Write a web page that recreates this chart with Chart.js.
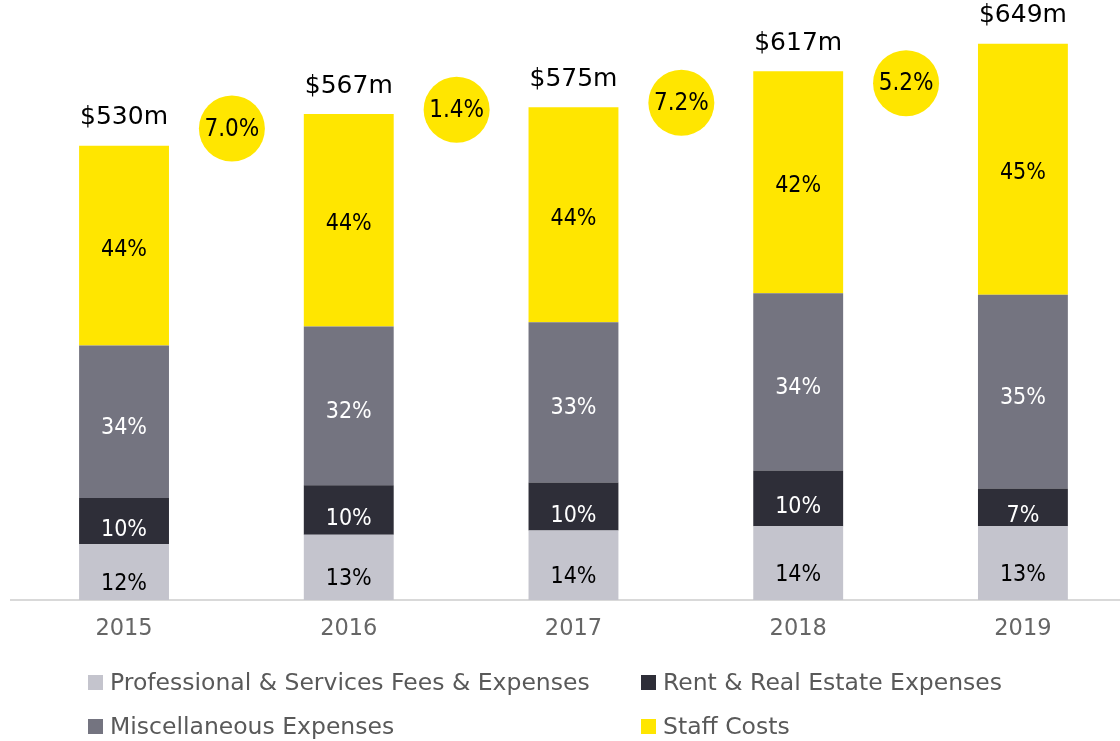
<!DOCTYPE html>
<html><head><meta charset="utf-8">
<script src="https://cdn.jsdelivr.net/npm/chart.js@4/dist/chart.umd.min.js"></script>
<style>html,body{margin:0;padding:0;background:#fff;}#wrap{width:1120px;height:741px;}</style>
</head><body><div id="wrap"><canvas id="c" width="1120" height="741"></canvas></div>
<script>
// ---- data ----
const years = [2015, 2016, 2017, 2018, 2019];
const seriesNames = ['Professional & Services Fees & Expenses', 'Rent & Real Estate Expenses', 'Miscellaneous Expenses', 'Staff Costs'];
const professional = [65, 76, 81, 86, 86];     // $m
const rent = [54, 58, 56, 65, 44];             // $m
const misc = [178, 185, 187, 207, 226];        // $m
const staff = [233, 248, 251, 259, 293];       // $m
const professionalPct = [12, 13, 14, 14, 13];
const rentPct = [10, 10, 10, 10, 7];
const miscPct = [34, 32, 33, 34, 35];
const staffPct = [44, 44, 44, 42, 45];
const totals = [530, 567, 575, 617, 649];
const growth = [7.0, 1.4, 7.2, 5.2];

// ---- layout / style ----
const growthBadgeLevel = [550, 572, 580, 603]; // vertical placement of growth badges ($m units)
const colors = ['#C4C4CD', '#2E2E38', '#747480', '#FFE600'];
const textColors = ['#000000', '#ffffff', '#ffffff', '#000000'];
const labelDy = [12, 9, 6, 4];
const pctFont = '23px "DejaVu Sans Condensed", "DejaVu Sans"';
const series = [professional, rent, misc, staff];
const pcts = [professionalPct, rentPct, miscPct, staffPct];

const labelPlugin = {
  id: 'valueLabels',
  afterDatasetsDraw(chart) {
    const ctx = chart.ctx;
    ctx.save();
    ctx.textAlign = 'center';
    ctx.textBaseline = 'middle';
    for (let d = 0; d < 4; d++) {
      const meta = chart.getDatasetMeta(d);
      meta.data.forEach((el, i) => {
        ctx.font = pctFont;
        ctx.fillStyle = textColors[d];
        ctx.fillText(pcts[d][i] + '%', el.x, (el.y + el.base) / 2 + labelDy[d]);
      });
    }
    chart.getDatasetMeta(3).data.forEach((el, i) => {
      ctx.font = '25px "DejaVu Sans"';
      ctx.fillStyle = '#000';
      ctx.fillText('$' + totals[i] + 'm', el.x, el.y - 28);
    });
    chart.getDatasetMeta(4).data.forEach((el, i) => {
      ctx.font = '24px "DejaVu Sans Condensed", "DejaVu Sans"';
      ctx.fillStyle = '#000';
      ctx.fillText(growth[i].toFixed(1) + '%', el.x, el.y + 1);
    });
    ctx.restore();
  }
};

const legendPlugin = {
  id: 'gridLegend',
  afterDraw(chart) {
    const ctx = chart.ctx;
    const cols = [88, 641], rows = [690, 734];
    ctx.save();
    ctx.font = '23.5px "DejaVu Sans"';
    ctx.textAlign = 'left';
    ctx.textBaseline = 'alphabetic';
    chart.data.datasets.slice(0, 4).forEach((ds, k) => {
      const x = cols[k % 2], y = rows[Math.floor(k / 2)];
      ctx.fillStyle = ds.backgroundColor;
      ctx.fillRect(x, y - 15, 15, 15);
      ctx.fillStyle = '#595959';
      ctx.fillText(ds.label, x + 22, y);
    });
    ctx.restore();
  }
};

const datasets = series.map((vals, d) => ({
  type: 'bar',
  label: seriesNames[d],
  data: vals,
  backgroundColor: colors[d],
  borderWidth: 0,
  categoryPercentage: 1,
  barPercentage: 0.4
}));
datasets.push({
  type: 'scatter',
  label: 'growth',
  data: growth.map((g, i) => ({ x: (years[i] + years[i + 1]) / 2 - 0.02, y: growthBadgeLevel[i] })),
  backgroundColor: '#FFE600',
  borderWidth: 0,
  pointRadius: 33,
  pointHoverRadius: 33,
  clip: false
});

new Chart(document.getElementById('c'), {
  type: 'bar',
  data: { labels: years, datasets },
  options: {
    responsive: false,
    animation: false,
    devicePixelRatio: 1,
    layout: { autoPadding: false, padding: { top: 0, left: 11, right: 0, bottom: 100 } },
    plugins: { legend: { display: false }, tooltip: { enabled: false } },
    scales: {
      x: {
        type: 'linear',
        stacked: true,
        offset: false,
        min: years[0] - 0.503,
        max: years[years.length - 1] + 0.432,
        grid: { display: false, drawTicks: false, offset: false },
        border: { display: true, color: '#d9d9d9', width: 2 },
        afterBuildTicks: s => { s.ticks = years.map(v => ({ value: v })); },
        afterFit: s => { s.paddingLeft = 0; s.paddingRight = 0; s.paddingTop = 0; s.paddingBottom = 0; s.height = 41; },
        ticks: {
          autoSkip: false, maxRotation: 0, padding: 16, color: '#666666',
          font: { family: 'DejaVu Sans', size: 22.5 },
          callback: v => String(v)
        }
      },
      y: { display: false, stacked: true, min: 0, max: 700 }
    }
  },
  plugins: [labelPlugin, legendPlugin]
});
</script>
</body></html>
